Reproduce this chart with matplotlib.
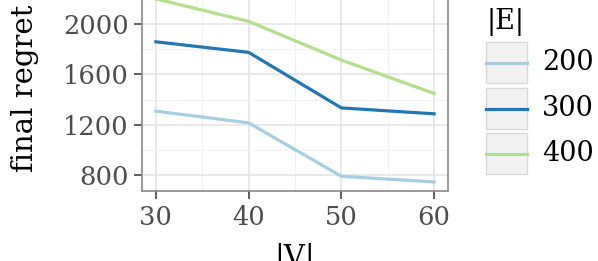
import matplotlib
matplotlib.use("Agg")
import matplotlib.pyplot as plt
from matplotlib.lines import Line2D
from matplotlib.patches import Rectangle
from matplotlib.ticker import MultipleLocator

# data
v_sizes = [30, 40, 50, 60]
e_sizes = ["200", "300", "400"]
regret_200 = [1308, 1215, 791, 746]
regret_300 = [1859, 1775, 1334, 1287]
regret_400 = [2200, 2021, 1714, 1449]
colors = ["#a6cee3", "#1f78b4", "#b2df8a"]

plt.rcParams["font.family"] = "DejaVu Serif"

W, H = 598, 261
fig = plt.figure(figsize=(W / 100, H / 100), dpi=100)

# panel: left 142px, right 448px, bottom 190.5px, top above the picture
ymin, ymax = 678, 2300
px_per_unit = 50.3 / 400
top_px = 24 - (ymax - 2000) * px_per_unit
ax = fig.add_axes([142 / W, 1 - 190.5 / H, (448 - 142) / W, (190.5 - top_px) / H])

for vals, c in zip([regret_200, regret_300, regret_400], colors):
    ax.plot(v_sizes, vals, color=c, linewidth=2.3, zorder=3)

ax.set_xlim(28.5, 61.5)
ax.set_ylim(ymin, ymax)
ax.xaxis.set_major_locator(MultipleLocator(10))
ax.xaxis.set_minor_locator(MultipleLocator(5))
ax.yaxis.set_major_locator(MultipleLocator(400))
ax.yaxis.set_minor_locator(MultipleLocator(200))
ax.grid(which="major", color="#e3e3e3", linewidth=1.1)
ax.grid(which="minor", color="#efefef", linewidth=0.6)
ax.set_axisbelow(True)

for s in ax.spines.values():
    s.set_color("#8a8a8a")
    s.set_linewidth(1.2)

ax.tick_params(which="major", length=5.5, width=1.1, color="#333333",
               labelsize=18.5, labelcolor="#4d4d4d")
ax.tick_params(axis="y", pad=4)
ax.tick_params(axis="x", pad=5)
ax.tick_params(which="minor", length=0)

fig.text(25 / W, 1 - 88.5 / H, "final regret", rotation=90, fontsize=21,
         ha="center", va="center")
fig.text(295 / W, 1 - 243 / H, "|V|", fontsize=21, ha="center", va="top")

# legend
fig.text(486 / W, 1 - 22 / H, "|E|", fontsize=19.5, ha="left", va="center")
key_tops = [42, 88, 133]
for top, c, lab in zip(key_tops, colors, e_sizes):
    fig.add_artist(Rectangle((486 / W, 1 - (top + 41) / H), 41 / W, 41 / H,
                             transform=fig.transFigure, facecolor="#f2f2f2",
                             edgecolor="#d9d9d9", linewidth=1.0))
    yc = 1 - (top + 20.5) / H
    fig.add_artist(Line2D([486 / W, 527 / W], [yc, yc], transform=fig.transFigure,
                          color=c, linewidth=2.3))
    fig.text(542 / W, yc, lab, fontsize=19.5, ha="left", va="center")

fig.savefig("out.png", dpi=100)
